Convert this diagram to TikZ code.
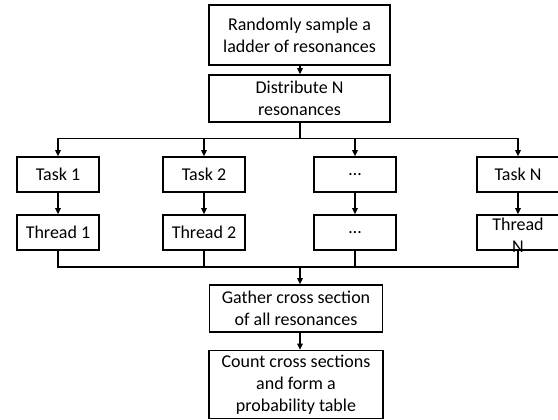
\documentclass[tikz,border=0pt]{standalone}
\usepackage{fontspec}
\setmainfont{Carlito}
\usetikzlibrary{arrows.meta}
\begin{document}
\begin{tikzpicture}[x=1pt,y=-1pt,
  box/.style={draw,line width=1.6pt,align=center,inner sep=0pt,
    font=\fontsize{18}{22}\selectfont},
  arr/.style={line width=1.4pt,-{Triangle[length=6pt,width=5.5pt]}},
  trunk/.style={line width=2.8pt},
  ln/.style={line width=1.4pt}]
\useasboundingbox[fill=white] (0,0) rectangle (558,420);
\node[box,minimum width=181pt,minimum height=60pt] (b1) at (299.5,35) {Randomly sample a\\ladder of resonances};
\node[box,minimum width=181pt,minimum height=47pt] (b2) at (299.5,98.5) {Distribute N\\resonances};
\foreach \n/\x/\t/\h in {1/58/Task 1/Thread 1,2/204/Task 2/Thread 2,3/355/…/…}{
  \node[box,minimum width=82pt,minimum height=35pt] (t\n) at (\x,174.5) {\t};
  \node[box,minimum width=82pt,minimum height=35pt] (h\n) at (\x,232.5) {\h};
}
\node[box,minimum width=82pt,minimum height=35pt] (t4) at (518,174.5) {Task N};
\node[draw,line width=1.6pt,minimum width=82pt,minimum height=35pt] (h4) at (518,232.5) {};
\node[align=center,inner sep=0pt,font=\fontsize{18}{22}\selectfont] (h4t) at (518,235) {Thread\\N};
\node[box,minimum width=173pt,minimum height=47pt] (g) at (296,308.5) {Gather cross section\\of all resonances};
\node[box,minimum width=174pt,minimum height=68pt] (c) at (296,384.5) {Count cross sections\\and form a\\probability table};
\coordinate (split) at (300,138.5);
\coordinate (merge) at (300,267);
\draw[arr] (b1.south -| split) -- (b2.north -| split);
\draw[trunk] (b2.south -| split) -- (split);
\foreach \n in {1,2,3,4}{
  \draw[arr] (split) -| (t\n.north);
  \draw[arr] (t\n.south) -- (h\n.north);
  \draw[ln] (h\n.south) |- (merge);
}
\draw[trunk] (merge) -- ([yshift=5pt]merge |- g.north);
\draw[arr] ([yshift=6pt]merge |- g.north) -- (merge |- g.north);
\draw[arr] (g.south -| merge) -- (c.north -| merge);
\end{tikzpicture}
\end{document}
